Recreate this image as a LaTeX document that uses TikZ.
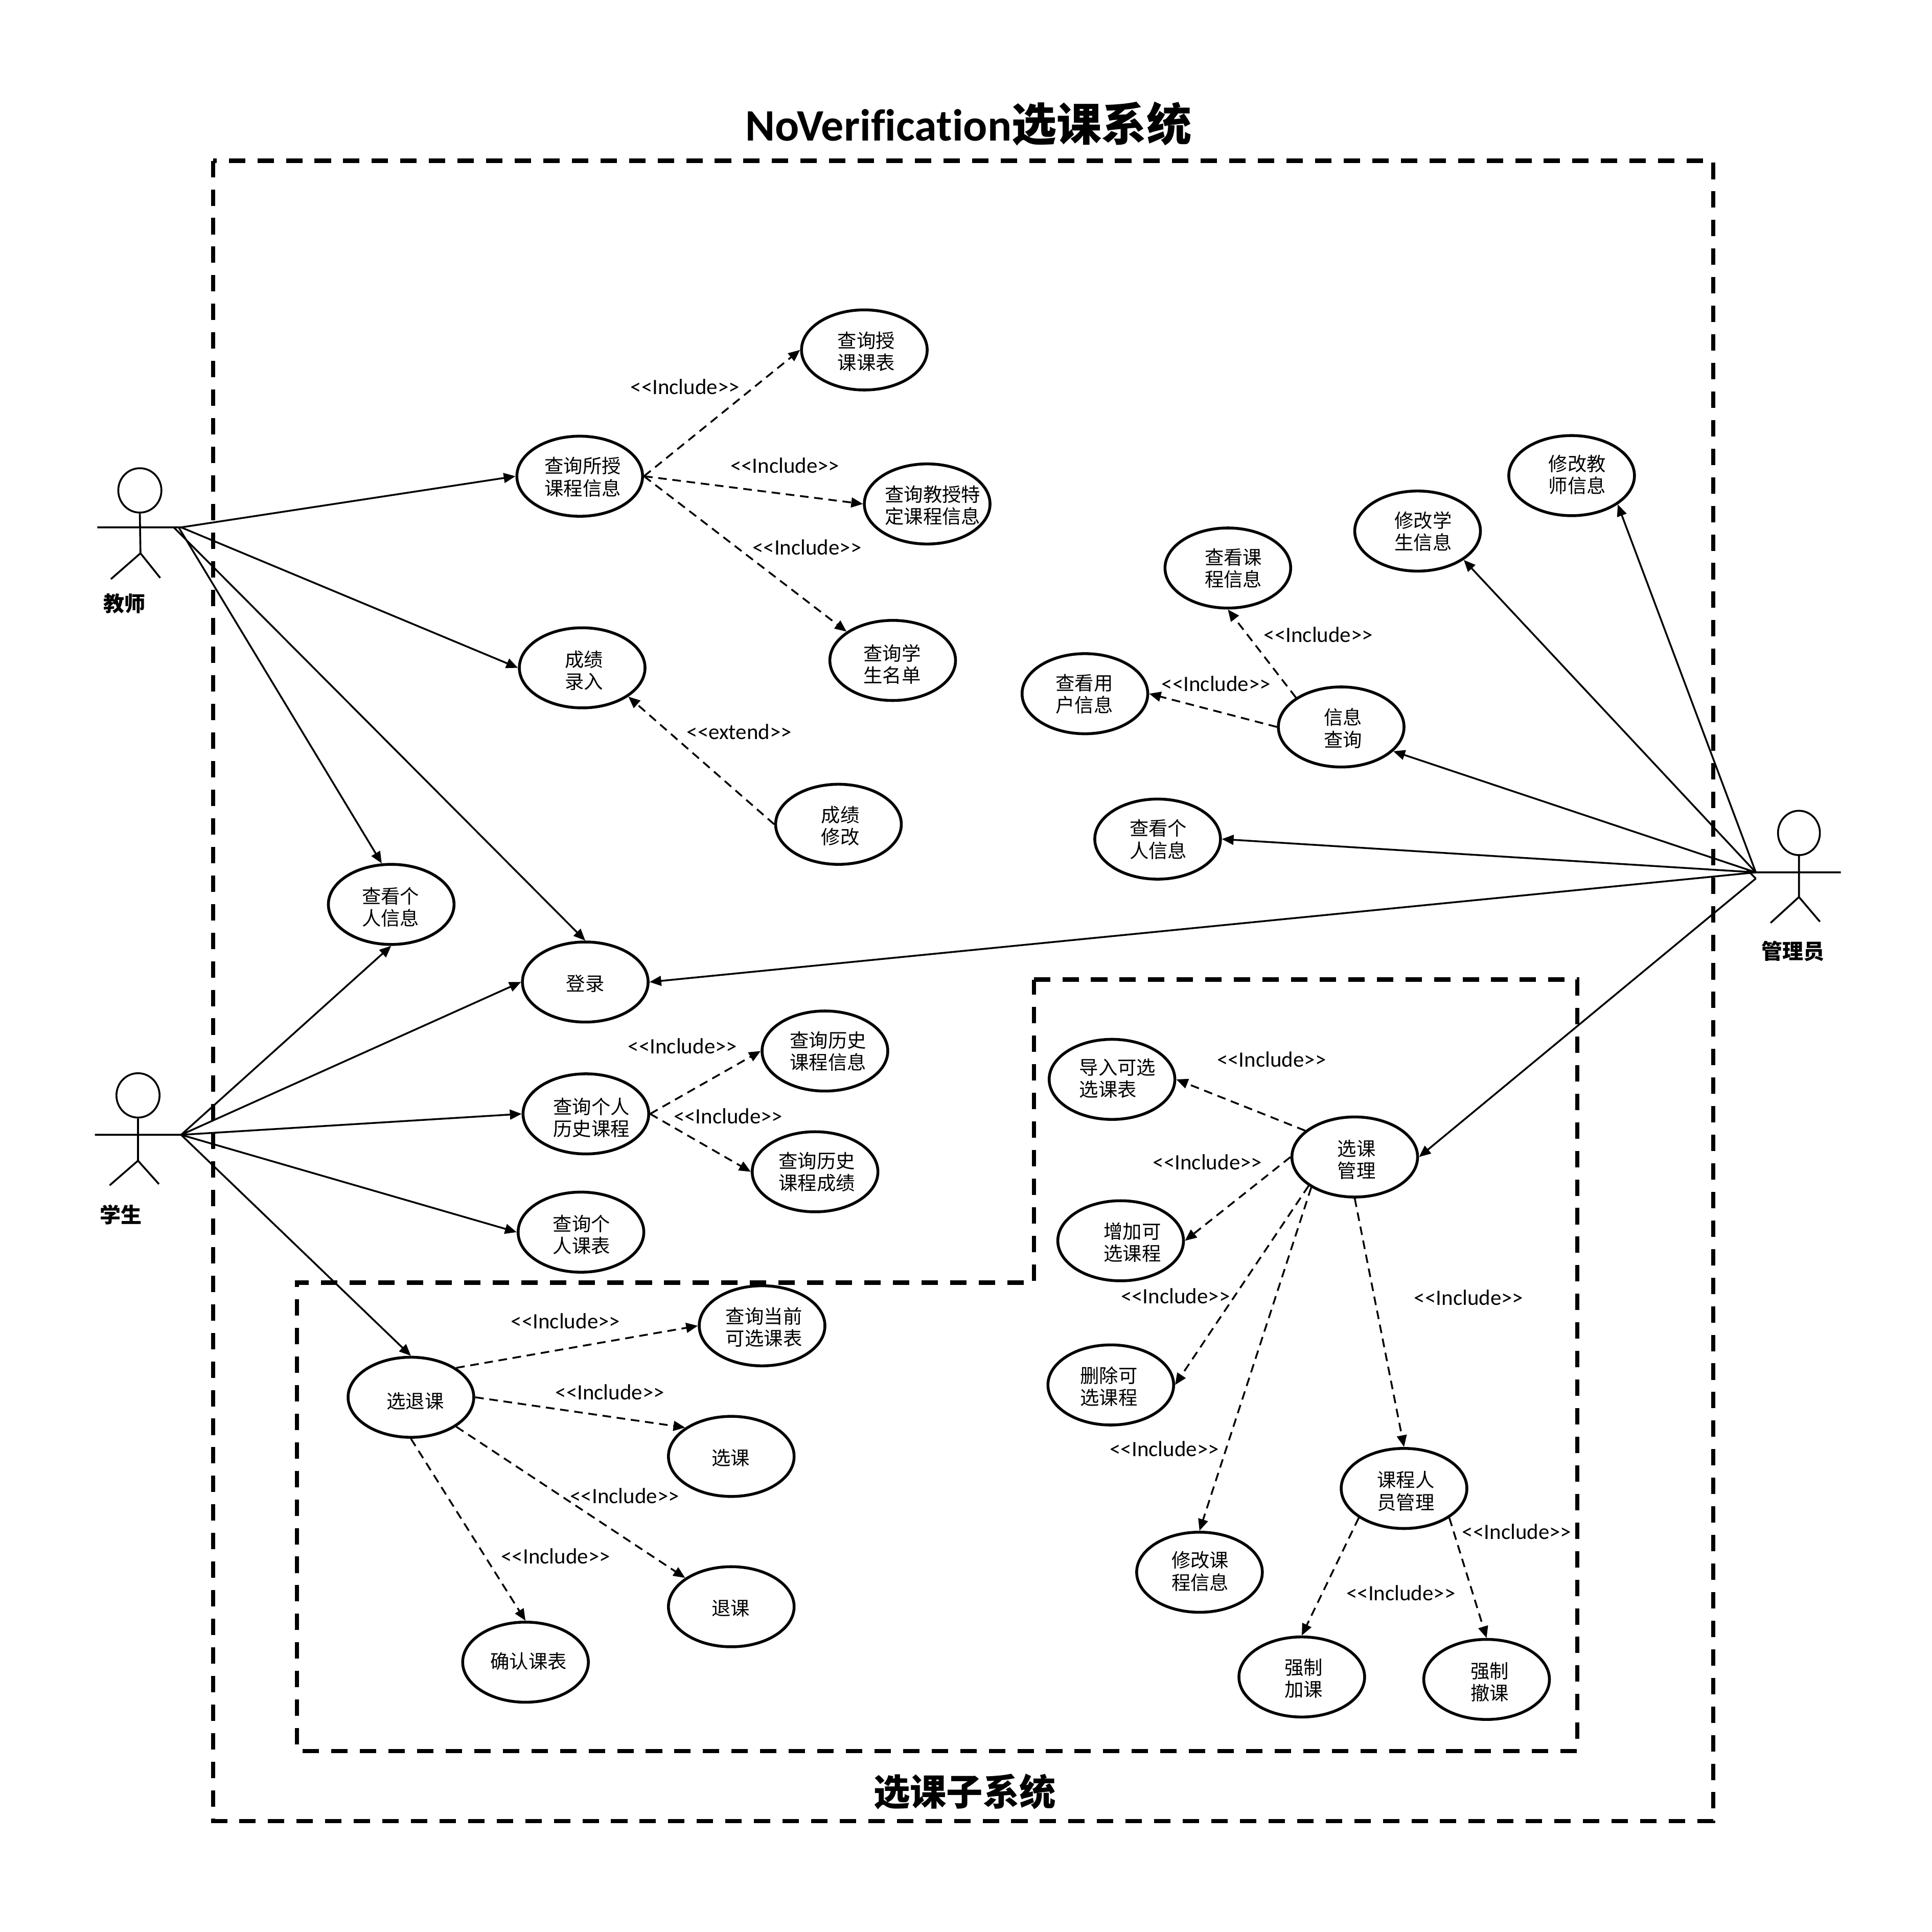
\documentclass[tikz,border=0pt]{standalone}
\usepackage{fontspec}
\setmainfont{Carlito}[Ligatures={TeX,NoCommon}]
\newfontfamily\cjk{Noto Sans CJK SC}
\usetikzlibrary{arrows.meta,shapes.geometric}
\tikzset{
  usecase/.style={draw=black,line width=2.3pt,ellipse,minimum width=102pt,minimum height=65pt,inner sep=0pt,fill=white,xshift=0.5pt},
  uctext/.style={font=\fontsize{15.5}{18}\selectfont\cjk,align=center,inner sep=0pt,yshift=-0.2pt},
  tag/.style={font=\fontsize{17.8}{20}\selectfont,inner sep=0pt},
  assoc/.style={line width=1.45pt,-{Triangle[length=9.5pt,width=8pt]}},
  dep/.style={line width=1.45pt,dash pattern=on 7pt off 4.6pt,-{Triangle[length=9.5pt,width=8pt]}},
  limb/.style={line width=1.5pt},
  head/.style={draw=black,line width=1.5pt,ellipse,inner sep=0pt},
  frameline/.style={line width=3.4pt,dash pattern=on 13.3pt off 9.9pt},
  actorname/.style={font=\fontsize{17}{20}\selectfont\bfseries\cjk,inner sep=0pt},
}
\newcommand{\uc}[4]{%
  \node[usecase] (#1) at (#2) {};
  \node[uctext] (#1-t) at (#3) {#4};
}
\newcommand{\tagat}[3]{\node[tag] (#1) at (#2) {#3};}
\newcommand{\incl}{<{}<Include>{}>}
\begin{document}
\begin{tikzpicture}[x=1pt,y=-1pt]
\useasboundingbox (0,0) rectangle (1568,1568);
% frames
\draw[frameline] (173,130.5) rectangle (1390.5,1478);
\draw[frameline] (839,795) -- (1280,795) -- (1280,1421) -- (241,1421) -- (241,1041) -- (839,1041) -- cycle;
\node[inner sep=0pt,font=\fontsize{36.5}{40}\selectfont\bfseries] (title) at (786,100.5) {NoVerification{\cjk 选课系统}};
\node[inner sep=0pt,font=\fontsize{29.6}{34}\selectfont\bfseries\cjk] (subtitle) at (783,1454) {选课子系统};
% actors
\node[head,minimum width=35pt,minimum height=36pt] (thead) at (113.5,398) {};
\coordinate (thip) at (114,449);
\coordinate (tl) at (90,470);
\coordinate (tr) at (130,469);
\coordinate (tal) at (79,428);
\coordinate (tar) at (147,428);
\coordinate (tb) at (141,428);
\coordinate (tc) at (145,428);
\draw[limb] (thead.south) -- (thip) (tal) -- (tar) (tl) -- (thip) -- (tr);
\node[actorname] (tname) at (101,490) {教师};
\node[head,minimum width=35pt,minimum height=36pt] (shead) at (112,889) {};
\coordinate (ship) at (112,942);
\coordinate (sl) at (89,962);
\coordinate (sr) at (129,961);
\coordinate (sal) at (77,921);
\coordinate (sar) at (147,921);
\draw[limb] (shead.south) -- (ship) (sal) -- (sar) (sl) -- (ship) -- (sr);
\node[actorname] (sname) at (98,986) {学生};
\node[head,minimum width=34pt,minimum height=36pt] (ahead) at (1460,676) {};
\coordinate (ahip) at (1460,728);
\coordinate (al) at (1437,749);
\coordinate (ar) at (1477,748);
\coordinate (aal) at (1425,708);
\coordinate (aar) at (1494,708);
\coordinate (ab) at (1425,713);
\coordinate (ac) at (1418,706);
\draw[limb] (ahead.south) -- (ahip) (aal) -- (aar) (al) -- (ahip) -- (ar);
\node[actorname] (aname) at (1455,772) {管理员};
% use cases
\uc{taught}{470,386.5}{473,387}{查询所授\\课程信息}
\uc{lr}{472,542}{474,544}{成绩\\录入}
\uc{pl}{317,734}{317,736}{查看个\\人信息}
\uc{login}{474.5,797}{475,798}{登录}
\uc{hist}{475,904}{480,907}{查询个人\\历史课程}
\uc{tab}{471,1000}{472,1002}{查询个\\人课表}
\uc{hinfo}{669,853}{672,853}{查询历史\\课程信息}
\uc{hscore}{661,951}{663,951}{查询历史\\课程成绩}
\uc{sel}{333,1134}{337,1137}{选退课}
\uc{curr}{618,1076}{620,1077}{查询当前\\可选课表}
\uc{xk}{593,1182}{593,1183}{选课}
\uc{tk}{593,1304}{593,1305}{退课}
\uc{conf}{426,1349}{429,1348}{确认课表}
\uc{sked}{701,284}{703,285}{查询授\\课课表}
\uc{spec}{752,409}{757,410}{查询教授特\\定课程信息}
\uc{roster}{724,536}{724,539}{查询学\\生名单}
\uc{cx}{680,669}{682,670}{成绩\\修改}
\uc{lc}{996,461}{1001,461}{查看课\\程信息}
\uc{lu}{880,563}{880,563}{查看用\\户信息}
\uc{iq}{1088,590}{1090,591}{信息\\查询}
\uc{pr}{939,681}{940,681}{查看个\\人信息}
\uc{ms}{1150,431}{1155,431}{修改学\\生信息}
\uc{mt}{1275,386}{1280,385}{修改教\\师信息}
\uc{imp}{902,876}{907,875}{导入可选\\选课表\phantom{选}}
\uc{mg}{1099,939}{1101,941}{选课\\管理}
\uc{add}{909,1007}{919,1008}{增加可\\选课程}
\uc{del}{901,1124}{900,1125}{删除可\\选课程}
\uc{mod}{973,1276}{974,1275}{修改课\\程信息}
\uc{staff}{1139,1208}{1141,1210}{课程人\\员管理}
\uc{fa}{1056,1361}{1058,1362}{强制\\加课}
\uc{fd}{1206,1363}{1209,1365}{强制\\撤课}
% teacher
\draw[assoc] (tar) -- (taught.west);
\draw[assoc] (tar) -- (lr.west);
\draw[assoc] (tc) -- (pl.103);
\draw[assoc] (tb) -- (login.north);
% student
\draw[assoc] (sar) -- (pl.south);
\draw[assoc] (sar) -- (login.west);
\draw[assoc] (sar) -- (hist.west);
\draw[assoc] (sar) -- (tab.west);
\draw[assoc] (sar) -- (sel.north);
% admin
\draw[line width=1.45pt] (ab) -- (ac);
\draw[assoc] (aal) -- (mt.-32);
\draw[assoc] (aal) -- (ms.-32);
\draw[assoc] (aal) -- (iq.-25);
\draw[assoc] (aal) -- (pr.east);
\draw[assoc] (aal) -- (login.east);
\draw[assoc] (ab) -- (mg.east);
% dependencies
\draw[dep] (taught.east) -- (sked.west);
\draw[dep] (taught.east) -- (spec.west);
\draw[dep] (taught.east) -- (roster.148);
\draw[dep] (cx.west) -- (lr.-32);
\draw[dep] (hist.east) -- (hinfo.west);
\draw[dep] (hist.east) -- (hscore.west);
\draw[dep] (sel.33) -- (curr.west);
\draw[dep] (sel.east) -- (xk.148);
\draw[dep] (sel.-33) -- (tk.148);
\draw[dep] (sel.south) -- (conf.north);
\draw[dep] (iq.147) -- (lc.south);
\draw[dep] (iq.west) -- (lu.east);
\draw[dep] (mg.152) -- (imp.east);
\draw[dep] (mg.west) -- (add.east);
\draw[dep] (mg.212) -- (del.east);
\draw[dep] (mg.215) -- (mod.north);
\draw[dep] (mg.south) -- (staff.north);
\draw[dep] (staff.213) -- (fa.north);
\draw[dep] (staff.-33) -- (fd.north);
% tags
\tagat{t1}{556,314}{\incl}
\tagat{t2}{637,378}{\incl}
\tagat{t3}{655,444}{\incl}
\tagat{t4}{600,594}{<{}<extend>{}>}
\tagat{t5}{987,555}{\incl}
\tagat{t6}{1070,515}{\incl}
\tagat{t7}{554,849}{\incl}
\tagat{t8}{591,906}{\incl}
\tagat{t9}{459,1072}{\incl}
\tagat{t10}{495,1130}{\incl}
\tagat{t11}{507,1214}{\incl}
\tagat{t12}{451,1263}{\incl}
\tagat{t13}{1032,860}{\incl}
\tagat{t14}{980,943}{\incl}
\tagat{t15}{954,1052}{\incl}
\tagat{t16}{945,1176}{\incl}
\tagat{t17}{1192,1053}{\incl}
\tagat{t18}{1137,1293}{\incl}
\tagat{t19}{1231,1243}{\incl}
\end{tikzpicture}
\end{document}
